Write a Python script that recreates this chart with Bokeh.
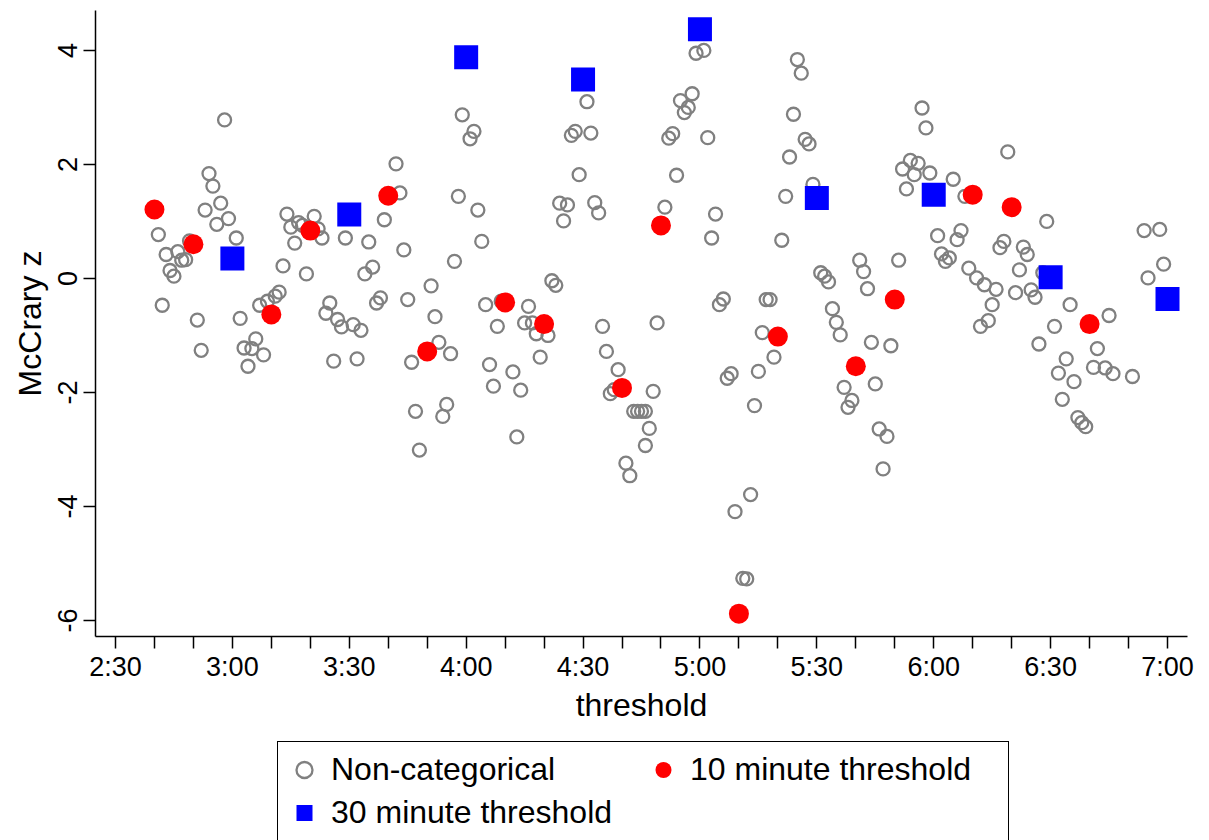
from bokeh.plotting import figure
from bokeh.models import FixedTicker, Legend, LegendItem
from bokeh.layouts import column
from bokeh.embed import file_html
from bokeh.resources import INLINE

# Non-categorical thresholds (minutes after midnight) and McCrary z
nc_min = [161, 162, 163, 164, 165, 166, 167, 168, 169,
          171, 172, 173, 174, 175, 176, 177, 178, 179,
          181, 182, 183, 184, 185, 186, 187, 188, 189,
          191, 192, 193, 194, 195, 196, 197, 198, 199,
          201, 202, 203, 204, 205, 206, 207, 208, 209,
          211, 212, 213, 214, 215, 216, 217, 218, 219,
          222, 223, 224, 225, 226, 227, 228,
          231, 232, 233, 234, 235, 236, 237, 238, 239,
          241, 242, 243, 244, 245, 246, 247, 248, 249,
          252, 253, 254, 255, 256, 257, 258, 259,
          261, 262, 263, 264, 265, 266, 267, 268, 269,
          271, 272, 273, 274, 275, 276, 277, 278, 279,
          281, 282, 283, 284, 285, 286, 286, 287, 288, 289,
          291, 292, 293, 294, 295, 296, 297, 298, 299,
          301, 302, 303, 304, 305, 306, 307, 308, 309,
          311, 312, 313, 314, 315, 316, 317, 318, 319,
          321, 322, 323, 324, 325, 326, 327, 328, 329,
          331, 332, 333, 334, 335, 336, 337, 338, 339,
          341, 342, 343, 344, 345, 346, 347, 348, 349,
          351, 352, 353, 354, 355, 356, 357, 358, 359,
          361, 362, 363, 364, 365, 366, 367, 368, 369,
          371, 372, 373, 374, 375, 376, 377, 378, 379,
          381, 382, 383, 384, 385, 386, 387, 388, 389,
          391, 392, 393, 394, 395, 396, 397, 398, 399,
          401, 402, 404, 405, 406,
          411, 414, 415, 418, 419]
nc_z = [0.77, -0.47, 0.42, 0.14, 0.04, 0.47, 0.32, 0.33, 0.66,
        -0.73, -1.26, 1.20, 1.84, 1.62, 0.95, 1.32, 2.78, 1.05,
        0.71, -0.70, -1.22, -1.54, -1.23, -1.06, -0.47, -1.34, -0.40,
        -0.31, -0.24, 0.22, 1.13, 0.90, 0.62, 0.98, 0.93, 0.08,
        1.09, 0.87, 0.71, -0.61, -0.43, -1.45, -0.72, -0.85, 0.71,
        -0.81, -1.41, -0.91, 0.08, 0.64, 0.20, -0.43, -0.34, 1.03,
        2.01, 1.50, 0.50, -0.37, -1.47, -2.33, -3.01,
        -0.13, -0.67, -1.12, -2.42, -2.21, -1.32, 0.30, 1.44, 2.87,
        2.45, 2.58, 1.20, 0.65, -0.46, -1.51, -1.89, -0.84, -0.40,
        -1.64, -2.78, -1.96, -0.78, -0.49, -0.78, -0.97, -1.38,
        -1.00, -0.04, -0.12, 1.32, 1.01, 1.29, 2.51, 2.58, 1.82,
        3.10, 2.55, 1.33, 1.15, -0.84, -1.28, -2.02, -1.95, -1.60,
        -3.24, -3.46, -2.33, -2.33, -2.33, -2.33, -2.93, -2.63, -1.98, -0.78,
        1.25, 2.46, 2.54, 1.81, 3.12, 2.91, 3.00, 3.24, 3.95,
        4.00, 2.47, 0.71, 1.13, -0.46, -0.36, -1.75, -1.67, -4.09,
        -5.26, -5.27, -3.79, -2.23, -1.63, -0.95, -0.37, -0.37, -1.38,
        0.67, 1.44, 2.13, 2.88, 3.84, 3.60, 2.44, 2.36, 1.65,
        0.10, 0.04, -0.06, -0.53, -0.77, -0.99, -1.91, -2.26, -2.14,
        0.32, 0.12, -0.18, -1.12, -1.85, -2.64, -3.34, -2.77, -1.18,
        0.32, 1.92, 1.57, 2.07, 1.82, 2.02, 2.99, 2.64, 1.85,
        0.75, 0.43, 0.30, 0.36, 1.74, 0.68, 0.84, 1.44, 0.18,
        0.01, -0.84, -0.11, -0.74, -0.46, -0.19, 0.54, 0.65, 2.22,
        -0.25, 0.15, 0.55, 0.42, -0.20, -0.33, -1.15, 0.10, 1.00,
        -0.84, -1.66, -2.12, -1.41, -0.46, -1.81, -2.44, -2.53, -2.60,
        -1.56, -1.23, -1.57, -0.65, -1.67,
        -1.72, 0.84, 0.01, 0.86, 0.25]

# 10 minute thresholds
ten_min = [160, 170, 190, 200, 220, 230, 250, 260, 280, 290, 310, 320, 340, 350, 370, 380, 400]
ten_z = [1.21, 0.60, -0.63, 0.84, 1.45, -1.28, -0.42, -0.80, -1.92, 0.93, -5.88, -1.02,
         -1.54, -0.37, 1.47, 1.25, -0.80]

# 30 minute thresholds
thirty_min = [180, 210, 240, 270, 300, 330, 360, 390, 420]
thirty_z = [0.35, 1.12, 3.88, 3.49, 4.37, 1.41, 1.47, 0.02, -0.36]

# Axis ticks
x_ticks = list(range(150, 421, 10))
x_label_ticks = [150, 180, 210, 240, 270, 300, 330, 360, 390, 420]
x_labels = ["2:30", "3:00", "3:30", "4:00", "4:30", "5:00", "5:30", "6:00", "6:30", "7:00"]
y_ticks = [-6, -4, -2, 0, 2, 4]
y_labels = ["-6", "-4", "-2", "0", "2", "4"]
legend_labels = ["Non-categorical", "10 minute threshold", "30 minute threshold"]

FONT = "Liberation Sans"

NC_STYLE = dict(marker="circle", size=13, fill_color=None, line_color="#808080", line_width=2.3)
TEN_STYLE = dict(marker="circle", size=20, fill_color="#ff0000", line_color=None)
THIRTY_STYLE = dict(marker="square", size=24, fill_color="#0000ff", line_color=None)

p = figure(width=1209, height=740, x_range=(144.87, 425.13), y_range=(-6.28, 4.70),
           output_backend="svg", toolbar_location=None,
           min_border_left=95, min_border_right=22, min_border_top=10, min_border_bottom=104)
p.outline_line_color = None
p.xgrid.visible = False
p.ygrid.visible = False
p.background_fill_color = "white"
p.border_fill_color = "white"

p.scatter(nc_min, nc_z, **NC_STYLE)
p.scatter(ten_min, ten_z, **TEN_STYLE)
p.scatter(thirty_min, thirty_z, **THIRTY_STYLE)

overrides = {t: "" for t in x_ticks}
for t, lab in zip(x_label_ticks, x_labels):
    overrides[t] = lab

xa = p.xaxis[0]
xa.ticker = FixedTicker(ticks=x_ticks)
xa.major_label_overrides = overrides
xa.axis_label = "threshold"

ya = p.yaxis[0]
ya.ticker = FixedTicker(ticks=y_ticks)
ya.major_label_overrides = {t: lab for t, lab in zip(y_ticks, y_labels)}
ya.axis_label = "McCrary z"
ya.major_label_orientation = "vertical"

for ax in (xa, ya):
    ax.minor_tick_line_color = None
    ax.major_tick_out = 12
    ax.major_tick_in = 0
    ax.axis_line_width = 1.5
    ax.major_tick_line_width = 1.5
    ax.axis_line_color = "black"
    ax.major_tick_line_color = "black"
    ax.major_label_text_font = FONT
    ax.major_label_text_font_size = "27px"
    ax.major_label_text_color = "black"
    ax.axis_label_text_font = FONT
    ax.axis_label_text_font_size = "32px"
    ax.axis_label_text_font_style = "normal"
    ax.axis_label_text_color = "black"

xa.major_label_standoff = 3
xa.axis_label_standoff = 2
ya.major_label_standoff = 6
ya.axis_label_standoff = 8

# Legend strip below the plot; its renderers reuse the data but fall outside its (0, 1) range
lg = figure(width=1209, height=100, x_range=(0, 1), y_range=(0, 1),
            output_backend="svg", toolbar_location=None,
            x_axis_location=None, y_axis_location=None,
            min_border=0, min_border_left=0, min_border_right=0,
            min_border_top=0, min_border_bottom=0)
lg.outline_line_color = None
lg.xgrid.visible = False
lg.ygrid.visible = False
lg.background_fill_color = "white"
lg.border_fill_color = "white"

l_nc = lg.scatter(nc_min, nc_z, **NC_STYLE)
l_ten = lg.scatter(ten_min, ten_z, **TEN_STYLE)
l_thirty = lg.scatter(thirty_min, thirty_z, **THIRTY_STYLE)

legend = Legend(items=[LegendItem(label=legend_labels[0], renderers=[l_nc]),
                       LegendItem(label=legend_labels[1], renderers=[l_ten]),
                       LegendItem(label=legend_labels[2], renderers=[l_thirty])],
                location=(182, -1), orientation="horizontal", ncols=2,
                label_text_font=FONT, label_text_font_size="32px", label_text_color="black",
                glyph_width=40, glyph_height=43, label_standoff=7,
                padding=6, spacing=0, label_width=312, margin=0,
                border_line_color="black", border_line_width=1.5, border_line_alpha=1.0,
                background_fill_color="white", background_fill_alpha=1.0)
lg.add_layout(legend)

layout = column(p, lg, spacing=0)
open("out.html", "w").write(file_html(layout, INLINE))
